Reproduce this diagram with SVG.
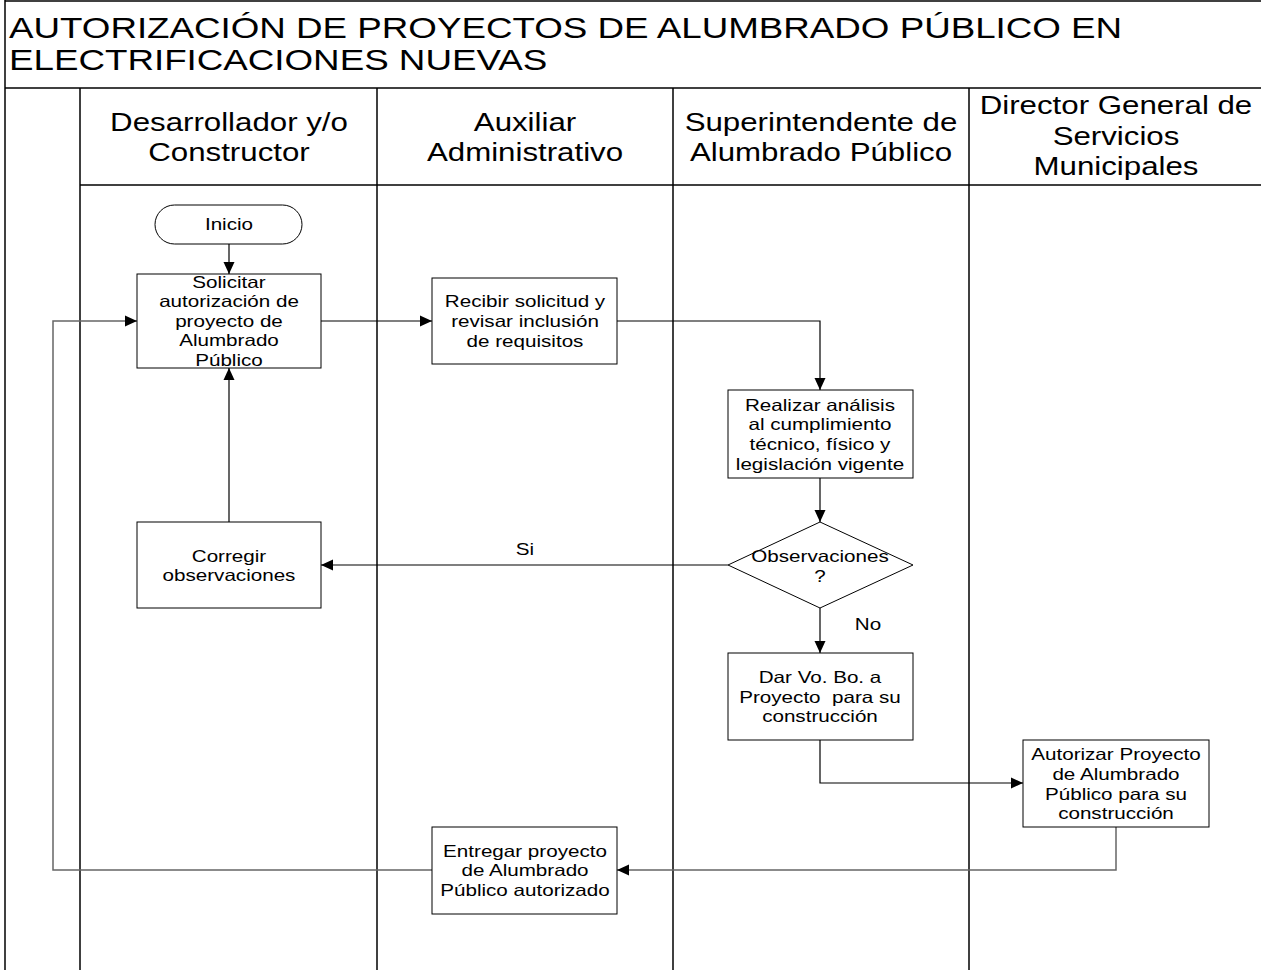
<svg xmlns="http://www.w3.org/2000/svg" width="1261" height="970" viewBox="0 0 1261 970">
<defs>
<marker id="arr" viewBox="0 0 12 12" refX="12" refY="6" markerWidth="12" markerHeight="12" markerUnits="userSpaceOnUse" orient="auto"><path d="M0,0.5 L12,6 L0,11.5 z" fill="#000"/></marker>
<style>
.frame{stroke:#000;stroke-width:1.5;fill:none}
.box{fill:#fff;stroke:#000;stroke-width:1}
.t{font-family:"Liberation Sans",Arial,sans-serif;font-size:16.5px;fill:#000;text-anchor:middle}
.h{font-family:"Liberation Sans",Arial,sans-serif;font-size:25px;fill:#000;text-anchor:middle}
.title{font-family:"Liberation Sans",Arial,sans-serif;font-size:30px;fill:#000}
.c{fill:none;stroke:#000;stroke-width:1.2}
.g{fill:none;stroke:#666;stroke-width:1.5}
</style>
</defs>
<rect width="1261" height="970" fill="#fff"/>
<g id="frame">
<line class="frame" x1="5" y1="0" x2="5" y2="970"/>
<line class="frame" x1="5" y1="1" x2="1261" y2="1"/>
<line class="frame" x1="5" y1="88" x2="1261" y2="88"/>
<line class="frame" x1="80" y1="88" x2="80" y2="970"/>
<line class="frame" x1="377" y1="88" x2="377" y2="970"/>
<line class="frame" x1="673" y1="88" x2="673" y2="970"/>
<line class="frame" x1="969" y1="88" x2="969" y2="970"/>
<line class="frame" x1="80" y1="185" x2="1261" y2="185"/>
<g transform="translate(9 0) scale(1.225 1) translate(-9 0)">
<text class="title" x="9" y="38">AUTORIZACIÓN DE PROYECTOS DE ALUMBRADO PÚBLICO EN</text>
<text class="title" x="9" y="70">ELECTRIFICACIONES NUEVAS</text>
</g>
<g transform="translate(229 0) scale(1.25 1) translate(-229 0)">
<text class="h" x="229" y="131">Desarrollador y/o</text>
<text class="h" x="229" y="161">Constructor</text>
</g>
<g transform="translate(525 0) scale(1.25 1) translate(-525 0)">
<text class="h" x="525" y="131">Auxiliar</text>
<text class="h" x="525" y="161">Administrativo</text>
</g>
<g transform="translate(821 0) scale(1.25 1) translate(-821 0)">
<text class="h" x="821" y="131">Superintendente de</text>
<text class="h" x="821" y="161">Alumbrado Público</text>
</g>
<g transform="translate(1116 0) scale(1.25 1) translate(-1116 0)">
<text class="h" x="1116" y="114">Director General de</text>
<text class="h" x="1116" y="145">Servicios</text>
<text class="h" x="1116" y="175">Municipales</text>
</g>
</g>
<g id="connectors">
<line class="c" x1="229" y1="244" x2="229" y2="274" marker-end="url(#arr)"/>
<line class="c" x1="321" y1="321" x2="432" y2="321" marker-end="url(#arr)"/>
<polyline class="c" points="617,321 820,321 820,390" marker-end="url(#arr)"/>
<line class="c" x1="820" y1="478" x2="820" y2="522" marker-end="url(#arr)"/>
<line class="c" x1="728" y1="565" x2="321" y2="565" marker-end="url(#arr)"/>
<line class="c" x1="820" y1="608" x2="820" y2="653" marker-end="url(#arr)"/>
<polyline class="c" points="820,740 820,783 1023,783" marker-end="url(#arr)"/>
<polyline class="g" points="1116,827 1116,870 617,870" marker-end="url(#arr)"/>
<polyline class="g" points="432,870 53,870 53,321 137,321" marker-end="url(#arr)"/>
<line class="c" x1="229" y1="522" x2="229" y2="368" marker-end="url(#arr)"/>
<text class="t" x="525" y="555" transform="translate(525 0) scale(1.25 1) translate(-525 0)">Si</text>
<text class="t" x="868" y="630" transform="translate(868 0) scale(1.25 1) translate(-868 0)">No</text>
</g>
<g id="inicio">
<rect class="box" x="155" y="205" width="147" height="39" rx="19.5"/>
<text class="t" x="229" y="230" transform="translate(229 0) scale(1.25 1) translate(-229 0)">Inicio</text>
</g>
<g id="solicitar">
<rect class="box" x="137" y="274" width="184" height="94"/>
<g transform="translate(229 0) scale(1.25 1) translate(-229 0)">
<text class="t" x="229" y="288">Solicitar</text>
<text class="t" x="229" y="307">autorización de</text>
<text class="t" x="229" y="327">proyecto de</text>
<text class="t" x="229" y="346">Alumbrado</text>
<text class="t" x="229" y="366">Público</text>
</g>
</g>
<g id="recibir">
<rect class="box" x="432" y="278" width="185" height="86"/>
<g transform="translate(525 0) scale(1.25 1) translate(-525 0)">
<text class="t" x="525" y="307">Recibir solicitud y</text>
<text class="t" x="525" y="327">revisar inclusión</text>
<text class="t" x="525" y="347">de requisitos</text>
</g>
</g>
<g id="realizar">
<rect class="box" x="728" y="390" width="185" height="88"/>
<g transform="translate(820 0) scale(1.25 1) translate(-820 0)">
<text class="t" x="820" y="411">Realizar análisis</text>
<text class="t" x="820" y="430">al cumplimiento</text>
<text class="t" x="820" y="450">técnico, físico y</text>
<text class="t" x="820" y="470">legislación vigente</text>
</g>
</g>
<g id="decision">
<polygon class="box" points="820,522 913,565 820,608 728,565"/>
<g transform="translate(820 0) scale(1.25 1) translate(-820 0)">
<text class="t" x="820" y="562">Observaciones</text>
<text class="t" x="820" y="582">?</text>
</g>
</g>
<g id="corregir">
<rect class="box" x="137" y="522" width="184" height="86"/>
<g transform="translate(229 0) scale(1.25 1) translate(-229 0)">
<text class="t" x="229" y="562">Corregir</text>
<text class="t" x="229" y="581">observaciones</text>
</g>
</g>
<g id="darvobo">
<rect class="box" x="728" y="653" width="185" height="87"/>
<g transform="translate(820 0) scale(1.25 1) translate(-820 0)">
<text class="t" x="820" y="683">Dar Vo. Bo. a</text>
<text class="t" x="820" y="703" xml:space="preserve">Proyecto  para su</text>
<text class="t" x="820" y="722">construcción</text>
</g>
</g>
<g id="autorizar">
<rect class="box" x="1023" y="740" width="186" height="87"/>
<g transform="translate(1116 0) scale(1.25 1) translate(-1116 0)">
<text class="t" x="1116" y="760">Autorizar Proyecto</text>
<text class="t" x="1116" y="780">de Alumbrado</text>
<text class="t" x="1116" y="800">Público para su</text>
<text class="t" x="1116" y="819">construcción</text>
</g>
</g>
<g id="entregar">
<rect class="box" x="432" y="827" width="185" height="87"/>
<g transform="translate(525 0) scale(1.25 1) translate(-525 0)">
<text class="t" x="525" y="857">Entregar proyecto</text>
<text class="t" x="525" y="876">de Alumbrado</text>
<text class="t" x="525" y="896">Público autorizado</text>
</g>
</g>
</svg>
